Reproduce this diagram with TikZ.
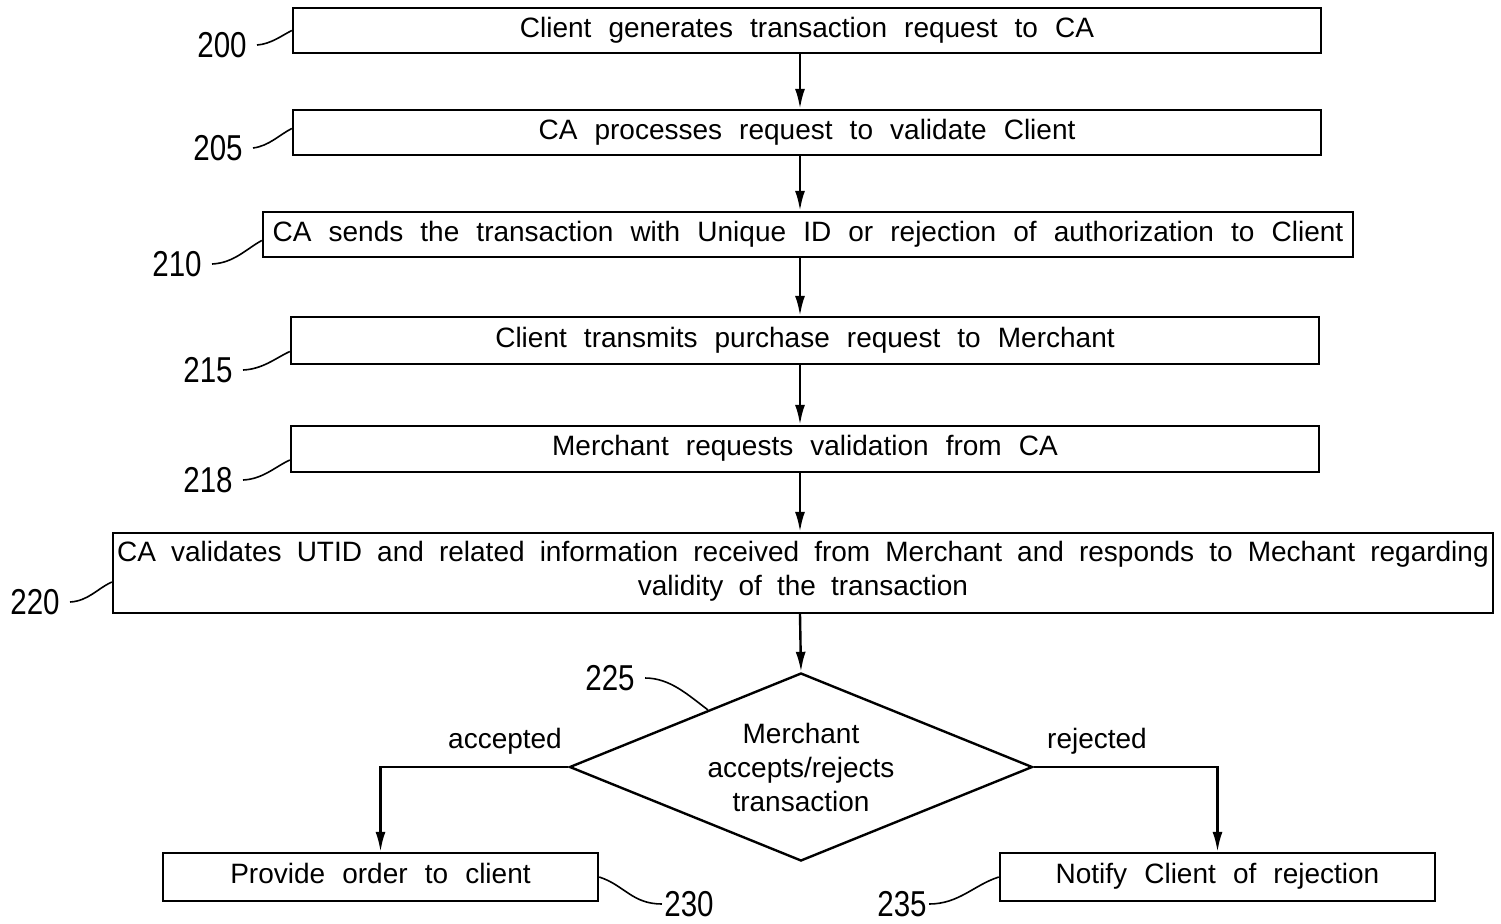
\documentclass[tikz,border=0pt]{standalone}
\usepackage{fontspec}
\setmainfont[WordSpace={2.2}]{Liberation Sans}
\newfontfamily\numfont[FakeStretch=0.82]{Liberation Sans}
\usetikzlibrary{shapes.geometric,arrows.meta,calc}
\begin{document}
\begin{tikzpicture}[x=0.5pt,y=-0.5pt,
  txt/.style={font=\fontsize{14}{17}\selectfont},
  box/.style={draw,line width=1.2pt,inner sep=0pt,txt,align=center,execute at begin node=\strut},
  num/.style={font=\numfont\fontsize{18}{18}\selectfont,inner ysep=0pt,inner xsep=5pt},
  numr/.style={num,inner xsep=1pt},
  arr/.style={line width=1.2pt,-{Latex[length=10pt,width=5pt]}},
  lead/.style={line width=0.8pt}]
\useasboundingbox (0,0) rectangle (1501,923);
\coordinate (axis) at (800,0);
% boxes
\node[box,minimum width=514pt,minimum height=22.5pt] (b200) at (807,30.5) {Client generates transaction request to CA};
\node[box,minimum width=514pt,minimum height=22.5pt] (b205) at (807,132.5) {CA processes request to validate Client};
\node[box,minimum width=545pt,minimum height=22.5pt] (b210) at (808,234.5) {CA sends the transaction with Unique ID or rejection of authorization to Client};
\node[box,minimum width=514pt,minimum height=23.5pt] (b215) at (805,340.5) {Client transmits purchase request to Merchant};
\node[box,minimum width=514pt,minimum height=23pt] (b218) at (805,449) {Merchant requests validation from CA};
\node[box,minimum width=690pt,minimum height=40pt] (b220) at (803,573) {\spaceskip=0.54em\relax CA validates UTID and related information received from Merchant and responds to Mechant regarding\\\spaceskip=0.54em\relax validity of the transaction};
\node[draw,line width=1.2pt,shape=diamond,aspect=2.46,inner sep=0pt,minimum width=231.5pt,minimum height=94pt,txt,align=center] (d225) at (801,767) {Merchant\\accepts/rejects\\transaction};
\node[box,minimum width=217.5pt,minimum height=24pt] (b230) at (380.5,877) {Provide order to client};
\node[box,minimum width=217.5pt,minimum height=24pt] (b235) at (1217.5,877) {Notify Client of rejection};
% branch labels
\node[txt,inner sep=0pt] (acc) at (505,741) {accepted};
\node[txt,inner sep=0pt] (rej) at (1097,741) {rejected};
% reference numerals
\node[num] (l200) at (222,45) {200};
\node[num] (l205) at (218,148) {205};
\node[num] (l210) at (177,264) {210};
\node[num] (l215) at (208,370) {215};
\node[num] (l218) at (208,480) {218};
\node[num] (l220) at (35,602) {220};
\node[num] (l225) at (610,678) {225};
\node[numr] (l230) at (689,904) {230};
\node[numr] (l235) at (902,904) {235};
% arrows
\draw[arr] (b200.south -| axis) -- (b205.north -| axis);
\draw[arr] (b205.south -| axis) -- (b210.north -| axis);
\draw[arr] (b210.south -| axis) -- (b215.north -| axis);
\draw[arr] (b215.south -| axis) -- (b218.north -| axis);
\draw[arr] (b218.south -| axis) -- (b220.north -| axis);
\draw[arr] (b220.south -| axis) -- (d225.north);
\draw[arr] (d225.west) -| (b230.north);
\draw[arr] (d225.east) -| (b235.north);
% leader lines
\draw[lead] (l200.east) .. controls +(14,-1) and +(-10,5) .. (b200.west);
\draw[lead] (l205.east) .. controls +(16,-2) and +(-12,6) .. ($(b205.west)+(0,-4)$);
\draw[lead] (l210.east) .. controls +(22,-1) and +(-15,8) .. ($(b210.west)+(0,6)$);
\draw[lead] (l215.east) .. controls +(20,-1) and +(-15,7) .. ($(b215.west)+(0,11)$);
\draw[lead] (l218.east) .. controls +(20,-1) and +(-15,7) .. ($(b218.west)+(0,11)$);
\draw[lead] (l220.east) .. controls +(18,-1) and +(-15,7) .. ($(b220.west)+(0,9)$);
\draw[lead] (l225.east) .. controls +(25,0) and +(-20,-15) .. ($(d225.north)!0.4!(d225.west)$);
\draw[lead] (b230.east) .. controls +(25,8) and +(-30,0) .. (l230.west);
\draw[lead] (l235.east) .. controls +(30,0) and +(-25,8) .. (b235.west);
\end{tikzpicture}
\end{document}
